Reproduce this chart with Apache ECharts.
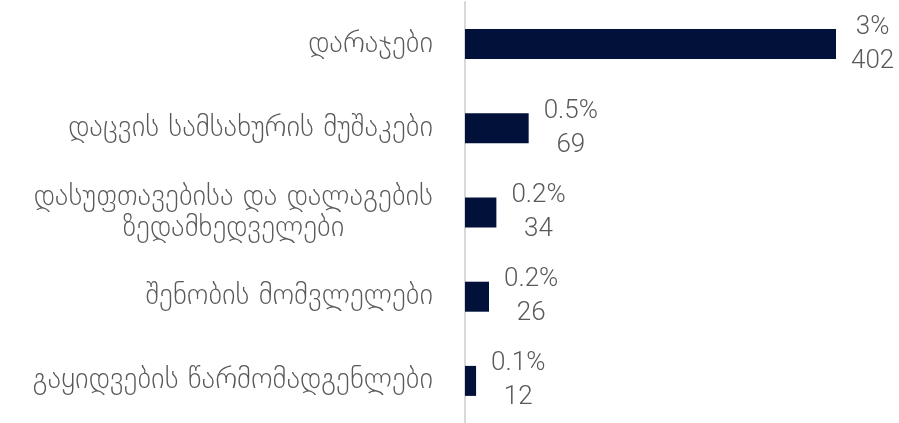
<!DOCTYPE html>
<html>
<head>
<meta charset="utf-8">
<script src="https://cdn.jsdelivr.net/npm/echarts@6/dist/echarts.min.js"></script>
<style>
  html, body { margin: 0; padding: 0; background: #fff; }
  #main { width: 899px; height: 423px; }
</style>
</head>
<body>
<div id="main"></div>
<script>
// კატეგორიები (ზემოდან ქვემოთ)
const categories = [
  'დარაჯები',
  'დაცვის სამსახურის მუშაკები',
  'დასუფთავებისა და დალაგების\nზედამხედველები',
  'შენობის მომვლელები',
  'გაყიდვების წარმომადგენლები'
]
const counts = [402, 69, 34, 26, 12]
const shares = ['3%', '0.5%', '0.2%', '0.2%', '0.1%']

const myChart = echarts.init(document.getElementById('main'))
const option = {
  animation: false,
  grid: {
    left: 465,
    right: 63,
    top: 2,
    bottom: 0
  },
  xAxis: {
    type: 'value',
    min: 0,
    max: 402,
    show: false
  },
  yAxis: {
    type: 'category',
    inverse: true,
    data: categories,
    axisTick: { show: false },
    axisLine: {
      show: true,
      lineStyle: { color: '#d9d9d9', width: 2 }
    },
    axisLabel: {
      margin: 32,
      formatter: function (v) {
        return v.split('\n').map(function (s) { return '{c|' + s + '}' }).join('\n')
      },
      rich: {
        c: {
          align: 'center',
          color: '#595959',
          fontFamily: 'DejaVu Sans',
          fontWeight: 200,
          fontSize: 29,
          lineHeight: 31
        }
      }
    }
  },
  series: [
    {
      type: 'bar',
      data: counts,
      barWidth: 30,
      itemStyle: { color: '#01113a' },
      label: {
        show: true,
        position: 'right',
        distance: 15,
        formatter: function (p) {
          return '{v|' + shares[p.dataIndex] + '}\n{v|' + p.value + '}'
        },
        rich: {
          v: {
            align: 'center',
            color: '#595959',
            fontFamily: 'Roboto',
            fontWeight: 300,
            fontSize: 26,
            lineHeight: 34
          }
        }
      }
    }
  ]
}
myChart.setOption(option)
</script>
</body>
</html>
